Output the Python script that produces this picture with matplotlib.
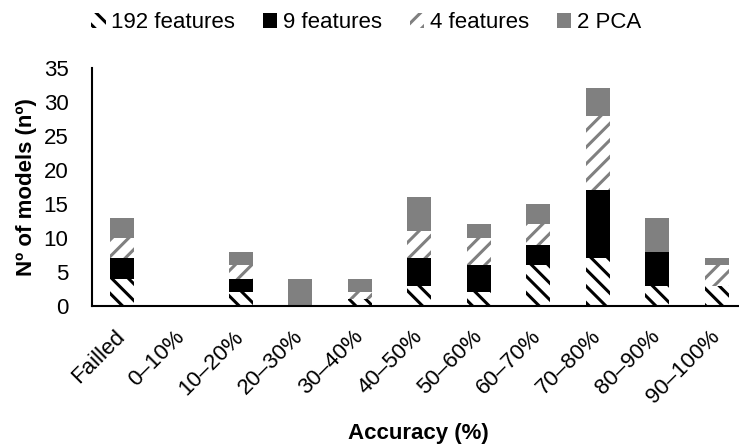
import matplotlib
matplotlib.use('Agg')
import matplotlib.pyplot as plt
import numpy as np

plt.rcParams['font.family'] = ['Liberation Sans', 'DejaVu Sans']
plt.rcParams['font.size'] = 16
plt.rcParams['hatch.linewidth'] = 2.2

# Accuracy bins and number of models per feature set
categories = ['Failled', '0\u201310%', '10\u201320%', '20\u201330%', '30\u201340%', '40\u201350%',
              '50\u201360%', '60\u201370%', '70\u201380%', '80\u201390%', '90\u2013100%']
feat_192 = [4, 0, 2, 0, 1, 3, 2, 6, 7, 3, 3]
feat_9 = [3, 0, 2, 0, 0, 4, 4, 3, 10, 5, 0]
feat_4 = [3, 0, 2, 0, 1, 4, 4, 3, 11, 0, 3]
pca_2 = [3, 0, 2, 4, 2, 5, 2, 3, 4, 5, 1]

series = [
    ('192 features', feat_192, dict(facecolor='white', edgecolor='black', hatch='\\\\')),
    ('9 features', feat_9, dict(facecolor='black', edgecolor='black')),
    ('4 features', feat_4, dict(facecolor='white', edgecolor='#808080', hatch='//')),
    ('2 PCA', pca_2, dict(facecolor='#808080', edgecolor='#808080')),
]

W, H = 739, 446
ax_left, ax_bottom, ax_w, ax_h = 92, 306, 654.5, 238   # pixels

fig = plt.figure(figsize=(W / 100, H / 100), dpi=100)
ax = fig.add_axes([ax_left / W, (H - ax_bottom) / H, ax_w / W, ax_h / H])

x = np.arange(len(categories))
bottom = np.zeros(len(categories))
for label, vals, style in series:
    vals = np.array(vals, dtype=float)
    ax.bar(x, vals, width=0.4, bottom=bottom, linewidth=0, label=label, **style)
    bottom += vals

ax.set_xlim(-0.5, len(categories) - 0.5)
ax.set_ylim(0, 35)
ax.set_yticks(range(0, 36, 5))
ax.set_xticks(x)
ax.set_xticklabels(categories, rotation=45, ha='right', va='center', rotation_mode='anchor')
ax.tick_params(axis='both', length=0, labelsize=16)
ax.tick_params(axis='x', pad=20)
ax.tick_params(axis='y', pad=17)

for side in ('top', 'right'):
    ax.spines[side].set_visible(False)
for side in ('left', 'bottom'):
    ax.spines[side].set_linewidth(1.5)
    ax.spines[side].set_color('black')

ax.set_ylabel('N\u00ba of models (n\u00ba)', fontweight='bold', fontsize=16, va='center')
ax.yaxis.set_label_coords((27 - ax_left) / ax_w, 0.5)
ax.set_xlabel('Accuracy (%)', fontweight='bold', fontsize=16, va='center')
ax.xaxis.set_label_coords((418 - ax_left) / ax_w, -(434 - ax_bottom) / ax_h)

fig.legend(loc='center', bbox_to_anchor=(366 / W, 1 - 23 / H), ncol=4, frameon=False,
           handlelength=0.65, handleheight=0.65, handletextpad=0.25, columnspacing=1.25,
           fontsize=16)

fig.savefig('out.png', dpi=100)
